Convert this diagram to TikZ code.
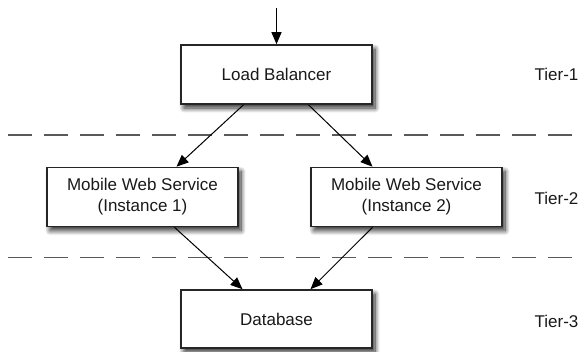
\documentclass[tikz,border=0pt]{standalone}
\usepackage{fontspec}
\setmainfont{Liberation Sans}
\usetikzlibrary{arrows.meta,positioning,shadows.blur}

\tikzset{
  svcbox/.style={draw=black!85, line width=1.6pt, fill=white, text=black!90,
    minimum width=191pt, minimum height=59pt, align=center,
    blur shadow={shadow xshift=3pt, shadow yshift=-4pt, shadow blur steps=10,
      shadow blur radius=5pt, shadow opacity=85}},
  tierlabel/.style={text=black!90},
  link/.style={-{Triangle[length=12pt,width=10pt]}, line width=1pt},
  sep/.style={draw=black!65, line width=1.5pt, dash pattern=on 24pt off 12pt},
}

\begin{document}
\begin{tikzpicture}[x=1pt,y=1pt,node distance=122pt,on grid,font=\fontsize{17}{21}\selectfont]
   \useasboundingbox (0,0) rectangle (583,-351);
   % boxes
   \node[svcbox] (lb) at (276.5,-74.5) {Load Balancer};
   \node[svcbox] (mws1) [below left=122.5pt and 134pt of lb] {Mobile Web Service\\(Instance 1)};
   \node[svcbox] (mws2) [below right=122.5pt and 130pt of lb] {Mobile Web Service\\(Instance 2)};
   \node[svcbox, minimum height=58pt] (db) [below=244.5pt of lb] {Database};
   % tier names
   \node[tierlabel] (t1) [right=280pt of lb] {Tier-1};
   \node[tierlabel] (t2) [below=124pt of t1] {Tier-2};
   \node[tierlabel] (t3) [below=123pt of t2] {Tier-3};
   % tier borders
   \coordinate (s1w) at (8,-135);
   \coordinate (s1e) at (583,-135);
   \coordinate (s2w) at (8,-257.5);
   \coordinate (s2e) at (583,-257.5);
   \draw[sep] (s1w) -- (s1e);
   \draw[sep] (s2w) -- (s2e);
   % requests
   \coordinate[above=66.5pt of lb] (in);
   \draw[link] (in) -- (lb.north);
   \draw[link] ([xshift=-33pt]lb.south) -- ([xshift=34pt]mws1.north);
   \draw[link] ([xshift=32pt]lb.south) -- ([xshift=-34pt]mws2.north);
   \draw[link] ([xshift=32pt]mws1.south) -- ([xshift=-34pt]db.north);
   \draw[link] ([xshift=-34pt]mws2.south) -- ([xshift=34pt]db.north);
\end{tikzpicture}
\end{document}
